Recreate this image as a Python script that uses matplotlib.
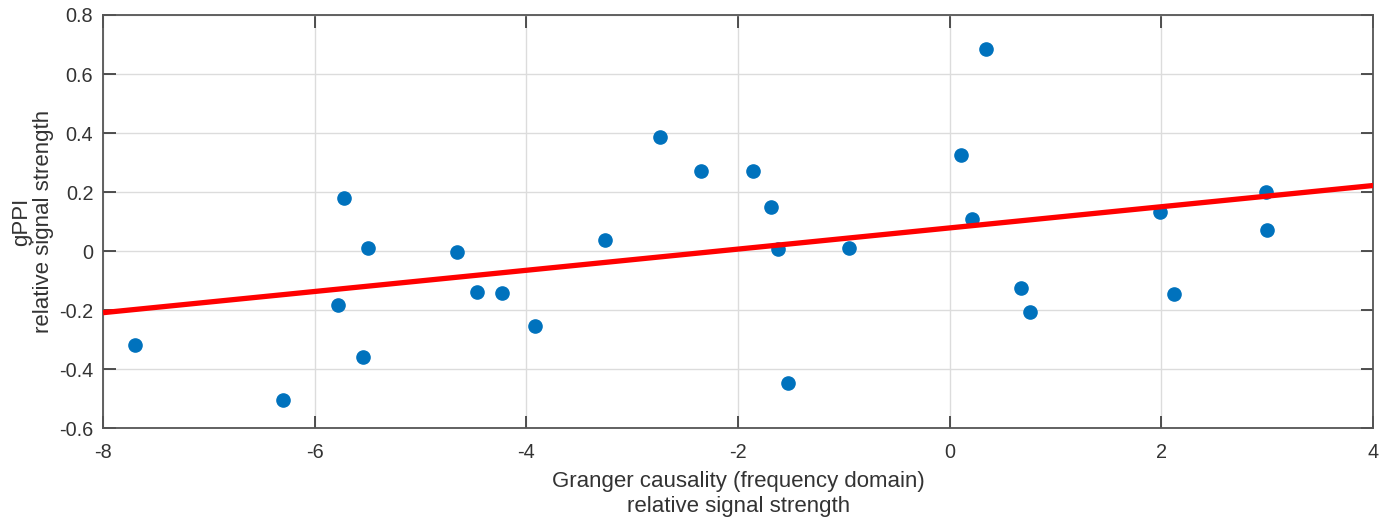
import numpy as np
import matplotlib
matplotlib.use("Agg")
import matplotlib.pyplot as plt

plt.rcParams['font.family'] = ['Liberation Sans', 'DejaVu Sans']

# scatter data
gc_x = [-7.70, -6.30, -5.78, -5.72, -5.54, -5.50, -4.66, -4.47, -4.23, -3.92,
        -3.26, -2.74, -2.35, -1.86, -1.69, -1.62, -1.53, -0.95, 0.11, 0.21,
        0.34, 0.67, 0.76, 1.99, 2.12, 2.99, 3.00]
gppi_y = [-0.319, -0.505, -0.183, 0.180, -0.358, 0.010, -0.004, -0.138, -0.143, -0.254,
          0.036, 0.387, 0.270, 0.270, 0.149, 0.007, -0.447, 0.010, 0.324, 0.110,
          0.684, -0.125, -0.206, 0.131, -0.147, 0.199, 0.071]

# regression line end points
fit_x = [-8, 4]
fit_y = [-0.209, 0.222]

xticks = [-8, -6, -4, -2, 0, 2, 4]
yticks = [-0.6, -0.4, -0.2, 0, 0.2, 0.4, 0.6, 0.8]
ytick_labels = ['-0.6', '-0.4', '-0.2', '0', '0.2', '0.4', '0.6', '0.8']

fig = plt.figure(figsize=(13.87, 5.19), dpi=100)
ax = fig.add_axes([0.0743, 0.1753, 0.9157, 0.7958])

ax.plot(gc_x, gppi_y, 'o', color='#0072BD', markersize=9.5, zorder=3)
ax.plot(fit_x, fit_y, '-', color='#FF0000', linewidth=3.8, zorder=4, solid_capstyle='butt')

ax.set_xlim(-8, 4)
ax.set_ylim(-0.6, 0.8)
ax.set_xticks(xticks)
ax.set_xticklabels([str(t) for t in xticks])
ax.set_yticks(yticks)
ax.set_yticklabels(ytick_labels)

ax.grid(True, color='#dcdcdc', linewidth=1.0)
ax.set_axisbelow(True)
ax.tick_params(direction='in', length=9, width=1.2, colors='#333333', labelsize=14.3,
               top=True, right=True)
ax.tick_params(axis='y', pad=7)
ax.tick_params(axis='x', pad=11)
for s in ax.spines.values():
    s.set_color('#555555')
    s.set_linewidth(1.3)

ax.set_xlabel('Granger causality (frequency domain)\nrelative signal strength',
              fontsize=16, color='#333333', labelpad=6, linespacing=1.3)
ax.set_ylabel('gPPI\nrelative signal strength', fontsize=16, color='#333333',
              labelpad=4, linespacing=1.0)

fig.savefig('out.png', dpi=100)
